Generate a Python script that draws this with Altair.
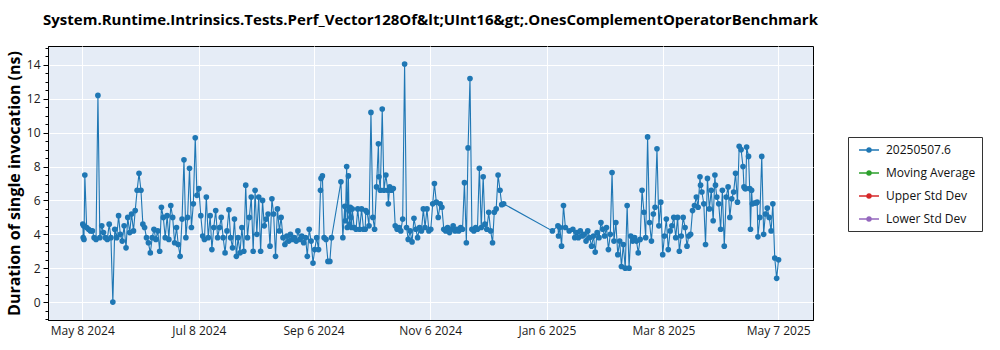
import altair as alt
import pandas as pd

TITLE = "System.Runtime.Intrinsics.Tests.Perf_Vector128Of&lt;UInt16&gt;.OnesComplementOperatorBenchmark"
Y_TITLE = "Duration of single invocation (ns)"
SERIES = "20250507.6"
LEGEND_NAMES = ["20250507.6", "Moving Average", "Upper Std Dev", "Lower Std Dev"]
LEGEND_COLORS = ["#1f77b4", "#2ca02c", "#d62728", "#9467bd"]
START_DATE = "2024-05-08"
X_TICK_DATES = [(2024, 5, 8), (2024, 7, 8), (2024, 9, 6), (2024, 11, 6),
                (2025, 1, 6), (2025, 3, 8), (2025, 5, 7)]

seg1_days = [0.3, 0.5, 0.7, 0.9, 1.35, 2.3, 3.3, 4.3, 5.3, 6.2, 7.2, 8.2, 9.2, 10.2, 11.1, 12.1,
             13.1, 14.1, 15.0, 16.0, 17.0, 18.0, 19.0, 19.9, 20.9, 21.9, 22.9, 23.8, 24.8, 25.8,
             26.8, 27.7, 28.7, 29.7, 30.7, 31.7, 32.6, 33.6, 34.6, 35.6, 36.6, 37.5, 38.5, 39.5,
             40.5, 41.4, 42.4, 43.4, 44.4, 45.3, 46.3, 47.3, 48.3, 49.3, 50.2, 51.2, 52.2, 53.2,
             54.2, 55.1, 56.1, 57.1, 58.1, 59.1, 60.0, 61.0, 62.0, 63.0]
seg1_vals = [4.6, 3.8, 4.5, 3.7, 7.5, 4.4, 4.3, 4.2, 4.2, 3.8, 3.7, 12.2, 3.8, 4.5, 4.1, 3.8,
             3.7, 4.6, 3.8, 0.0, 4.3, 3.8, 5.1, 4.0, 3.6, 4.5, 3.2, 5.0, 4.1, 5.2,
             4.2, 5.4, 6.6, 7.6, 6.6, 4.6, 4.4, 3.8, 3.5, 2.9, 3.8, 4.3, 3.7, 4.2,
             3.0, 5.6, 5.0, 3.8, 5.1, 3.7, 5.7, 5.0, 3.5, 4.4, 3.4, 2.7, 4.9, 8.4,
             3.8, 5.0, 7.9, 4.4, 5.8, 9.7, 6.3, 6.7, 5.1, 3.9]

seg2_days = [63.9, 64.9, 65.9, 66.9, 67.8, 68.8, 69.8, 70.8, 71.8, 72.7, 73.7, 74.7, 75.7, 76.7,
             77.6, 78.6, 79.6, 80.6, 81.5, 82.5, 83.5, 84.5, 85.5, 86.4, 87.4, 88.4, 89.4, 90.4,
             91.3, 92.3, 93.3, 94.3, 95.2, 96.2, 97.2, 98.2, 99.2, 100.1, 101.1, 102.1, 103.1,
             104.0, 105.0, 106.0, 107.0, 108.0, 108.9, 109.9, 110.9, 111.9, 112.8, 113.8, 114.8,
             115.8, 116.8, 117.7, 118.7, 119.7, 120.7, 121.6, 122.6, 123.6, 124.6, 124.9, 125.6,
             126.5, 127.5, 128.5, 129.5, 130.4]
seg2_vals = [3.7, 6.2, 3.8, 5.1, 3.1, 4.4, 5.4, 3.8, 4.4, 5.0, 3.8, 2.9, 4.2, 5.45,
             3.8, 3.2, 4.9, 2.7, 3.8, 2.9, 4.4, 3.0, 6.9, 3.8, 5.0, 6.2, 3.0, 6.6,
             4.0, 6.2, 3.0, 6.0, 4.5, 4.9, 5.2, 3.3, 6.1, 5.2, 2.7, 5.5, 4.2,
             5.0, 3.8, 3.4, 3.9, 3.6, 4.0, 3.7, 3.8, 3.6, 4.2, 3.7, 3.9,
             3.5, 3.8, 2.7, 4.3, 3.6, 2.3, 3.1, 3.8, 3.1, 6.6, 7.3, 7.45,
             3.8, 3.7, 2.4, 2.4, 3.8]

seg3_days = [135.3, 136.3, 137.3, 137.6, 138.3, 138.6, 139.2, 139.5, 139.8, 140.2, 140.5, 140.8,
             141.2, 142.2, 143.2, 144.1, 145.1, 146.1, 147.1, 148.0, 148.3, 149.0, 150.0, 151.0,
             152.0, 152.9, 153.9, 154.9, 155.2, 155.9, 156.9, 157.8, 158.8, 159.8, 160.1, 160.8,
             161.7, 162.7, 163.7, 164.7, 165.7, 166.6, 167.6, 168.6, 169.6, 170.5, 171.5, 172.5,
             173.5, 174.5, 175.4, 176.4, 177.4, 178.4, 179.3, 180.3, 181.3, 182.3, 183.3, 184.2,
             185.2, 186.2, 187.2, 188.1, 189.1, 190.1, 191.1, 192.1, 193.0, 194.0, 195.0, 196.0,
             196.9, 197.9, 198.9, 199.9, 200.9, 201.8, 202.8, 203.8, 204.8, 205.8, 206.7, 207.7,
             208.7, 209.7, 210.6, 211.6, 212.6, 213.6, 214.6, 215.5, 216.5, 217.5, 218.5, 219.4,
             220.4]
seg3_vals = [7.1, 3.8, 5.65, 4.8, 8.0, 4.4, 7.45, 5.4, 4.6, 5.6, 5.0, 4.4,
             5.5, 4.4, 4.3, 5.5, 4.3, 5.5, 4.3, 4.3, 5.4, 5.3, 4.5, 11.2,
             5.0, 4.3, 6.8, 9.35, 7.4, 6.6, 11.4, 6.6, 7.5, 6.6, 5.8, 6.8,
             6.6, 6.7, 4.5, 4.3, 4.4, 4.2, 4.9, 14.05, 4.4, 3.7, 4.2, 3.55,
             4.95, 4.3, 3.8, 4.4, 4.2, 5.5, 4.4, 5.5, 4.2, 4.3, 5.8, 7.0,
             5.9, 5.0, 5.8, 5.6, 4.3, 4.2, 4.4, 4.1, 4.3, 4.5, 4.2, 4.3,
             4.2, 4.4, 4.3, 7.05, 3.5, 9.1, 13.2, 4.3, 4.2, 4.4, 4.3, 7.9,
             4.4, 7.4, 4.6, 4.3, 5.3, 4.2, 3.5, 5.3, 5.5, 7.5, 6.6, 5.75,
             5.8]

seg4_days = [245.9, 248.8, 249.1, 249.8, 250.7, 251.7, 252.7, 254.7, 256.6, 257.6, 258.6, 259.5,
             260.5, 261.5, 262.5, 263.5, 264.4, 265.4, 266.4, 267.4, 268.3, 269.3, 270.3, 271.3,
             272.3, 273.2, 274.2, 275.2, 276.2, 277.1, 278.1, 279.1, 280.1, 281.1, 282.0, 283.0,
             284.0, 285.0, 286.0, 286.9, 287.9, 288.9, 289.9, 290.8, 291.8, 292.8, 293.8, 294.7,
             295.7, 296.7, 297.7, 298.7, 299.6, 300.6, 301.6, 302.6, 303.6, 304.5, 305.5, 306.5,
             307.5, 308.4, 309.4, 310.4]
seg4_vals = [4.2, 4.5, 3.9, 4.4, 3.3, 5.7, 4.4, 4.2, 4.3, 3.8, 4.1, 3.8,
             4.2, 3.9, 4.0, 3.6, 4.2, 3.8, 3.3, 3.9, 2.95, 4.1, 3.8, 4.7,
             4.3, 3.9, 4.4, 3.1, 4.0, 7.65, 3.6, 4.7, 2.8, 3.6, 2.1, 3.4,
             2.0, 5.7, 2.0, 3.9, 3.6, 3.8, 3.6, 2.9, 3.7, 6.6, 5.3, 3.8,
             9.75, 4.7, 3.6, 5.2, 5.6, 9.05, 4.5, 5.9, 2.8, 3.9, 4.9, 3.1,
             4.2, 4.5, 5.0, 3.8]

seg5_days = [311.4, 312.3, 313.3, 314.3, 315.3, 316.3, 317.2, 318.2, 319.2, 320.2,
             321.2, 322.1, 323.1, 323.4, 324.1, 325.1, 326.0, 327.0, 328.0, 329.0,
             330.0, 330.9, 331.2, 331.9, 332.9, 333.9, 334.8, 335.8, 336.8, 337.8,
             338.7, 339.7, 340.7, 341.7, 342.7, 343.6, 344.6, 345.6, 346.1, 346.6,
             347.1, 347.5, 348.5, 349.1, 349.5, 350.1, 350.5, 351.5, 352.5, 353.0,
             353.4, 354.4, 355.4, 356.4, 357.3, 358.3, 359.3, 360.3, 361.2, 362.2,
             363.2, 364.2]
seg5_vals = [5.0, 3.0, 3.9, 5.0, 4.4, 3.3, 3.9, 4.0, 5.4, 5.7,
             6.2, 5.6, 7.4, 6.9, 6.5, 5.8, 3.4, 7.3, 5.5, 6.6,
             4.8, 7.5, 6.9, 6.2, 5.8, 4.3, 6.6, 3.3, 6.2, 6.8,
             5.0, 6.1, 6.5, 7.6, 5.9, 9.2, 9.0, 8.0, 6.8, 6.7,
             6.7, 9.15, 8.6, 6.7, 4.3, 6.6, 5.8, 5.85, 5.85, 5.9,
             3.85, 5.0, 8.6, 4.0, 5.2, 5.55, 5.0, 4.2, 5.8, 2.6,
             1.4, 2.5]

days = seg1_days + seg2_days + seg3_days + seg4_days + seg5_days
vals = seg1_vals + seg2_vals + seg3_vals + seg4_vals + seg5_vals
assert len(days) == len(vals)

dates = (pd.Timestamp(START_DATE) + pd.to_timedelta(days, unit="D")).strftime("%Y-%m-%dT%H:%M:%SZ")
df = pd.DataFrame({"date": list(dates), "duration": vals, "series": SERIES})

FONT = "Open Sans"
x_ticks = [alt.DateTime(year=y, month=m, date=d, utc=True) for (y, m, d) in X_TICK_DATES]
y_ticks = [v / 2 for v in range(-2, 31)]

x_enc = alt.X(
    "date:T",
    scale=alt.Scale(type="utc", domain=[alt.DateTime(year=2024, month=4, date=20, hours=2, utc=True),
                                        alt.DateTime(year=2025, month=5, date=25, hours=5, utc=True)]),
    axis=alt.Axis(values=x_ticks, labelExpr="utcFormat(datum.value, '%b %-d %Y')", title=None,
                  tickSize=0, labelPadding=5),
)
y_enc = alt.Y(
    "duration:Q",
    scale=alt.Scale(domain=[-1.06, 15.12], nice=False, zero=False),
    axis=alt.Axis(
        values=y_ticks,
        title=Y_TITLE,
        labelExpr="datum.value % 2 === 0 ? format(datum.value, 'd') : ''",
        tickSize={"condition": {"test": "datum.value % 2 === 0", "value": 5}, "value": 3},
        gridOpacity={"condition": {"test": "datum.value % 2 === 0", "value": 1}, "value": 0},
        labelPadding=3,
        titlePadding=4,
    ),
)

legend_symbol = ("M-0.33,0H3 "
                 "M0.98,0A0.35,0.35 0 1,0 1.68,0A0.35,0.35 0 1,0 0.98,0 "
                 "M1.13,0A0.2,0.2 0 1,0 1.53,0A0.2,0.2 0 1,0 1.13,0 "
                 "M1.27,0A0.06,0.06 0 1,0 1.39,0A0.06,0.06 0 1,0 1.27,0")

line = alt.Chart(df).mark_line(strokeWidth=1.1).encode(
    x=x_enc,
    y=y_enc,
    color=alt.Color(
        "series:N",
        scale=alt.Scale(domain=LEGEND_NAMES, range=LEGEND_COLORS),
        legend=alt.Legend(
            title=None, orient="none", legendX=800, legendY=91,
            symbolType=legend_symbol, symbolSize=144, symbolStrokeWidth=1.3,
            labelFont=FONT, labelFontSize=12, labelColor="#111", labelOffset=18,
            labelExpr="datum.label + '   '",
            padding=6, rowPadding=10, strokeColor="#333", fillColor="white",
        ),
    ),
)
points = alt.Chart(df).mark_circle(size=32, opacity=1, color="#1f77b4").encode(x=x_enc, y=y_enc)

chart = (
    alt.layer(line, points)
    .properties(
        width=765, height=274,
        title=alt.TitleParams(TITLE, font=FONT, fontSize=15, fontWeight="bold", color="black",
                              anchor="middle", offset=18),
        autosize=alt.AutoSizeParams(type="none"),
        padding={"left": 48, "top": 46, "right": 187, "bottom": 30},
        background="white",
    )
    .configure_view(fill="#E5ECF6", stroke="black", strokeWidth=1)
    .configure_axis(
        grid=True, gridColor="white", gridWidth=1,
        domainColor="black", tickColor="black",
        labelFont=FONT, labelFontSize=12, labelColor="#1a1a1a",
        titleFont=FONT, titleFontSize=16, titleFontWeight="bold", titleColor="black",
    )
)

chart.save("out.html", embed_options={"renderer": "svg", "actions": False})
